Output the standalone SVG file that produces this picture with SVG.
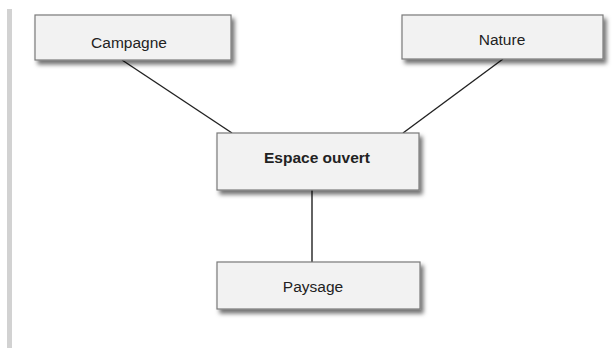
<svg xmlns="http://www.w3.org/2000/svg" width="614" height="348" viewBox="0 0 614 348">
<defs>
<filter id="sh" x="-10%" y="-20%" width="125%" height="160%">
<feDropShadow dx="3" dy="4" stdDeviation="2" flood-color="#000" flood-opacity="0.55"/>
</filter>
<style>
.box{fill:#f2f2f2;stroke:#7a7a7a;stroke-width:1.2;filter:url(#sh)}
.t{font-family:"Liberation Sans",Arial,sans-serif;font-size:15.5px;fill:#222;text-anchor:middle}
.b{font-weight:bold}
.c{stroke:#222;stroke-width:1.4;fill:none}
</style>
</defs>
<rect width="614" height="348" fill="#fff"/>
<rect x="7" y="9" width="5" height="339" fill="#d2d2d2"/>
<g id="connectors">
<line class="c" x1="122" y1="60" x2="232" y2="133"/>
<line class="c" x1="503" y1="59" x2="403" y2="133"/>
<line class="c" x1="312" y1="190" x2="312" y2="262"/>
</g>
<g id="campagne">
<rect class="box" x="35" y="15" width="196" height="45"/>
<text class="t" x="129" y="48">Campagne</text>
</g>
<g id="nature">
<rect class="box" x="402" y="15" width="201" height="44"/>
<text class="t" x="502" y="45">Nature</text>
</g>
<g id="espace">
<rect class="box" x="217" y="133" width="202" height="57"/>
<text class="t b" x="317" y="163">Espace ouvert</text>
</g>
<g id="paysage">
<rect class="box" x="217" y="262" width="203" height="47"/>
<text class="t" x="313" y="292">Paysage</text>
</g>
</svg>
